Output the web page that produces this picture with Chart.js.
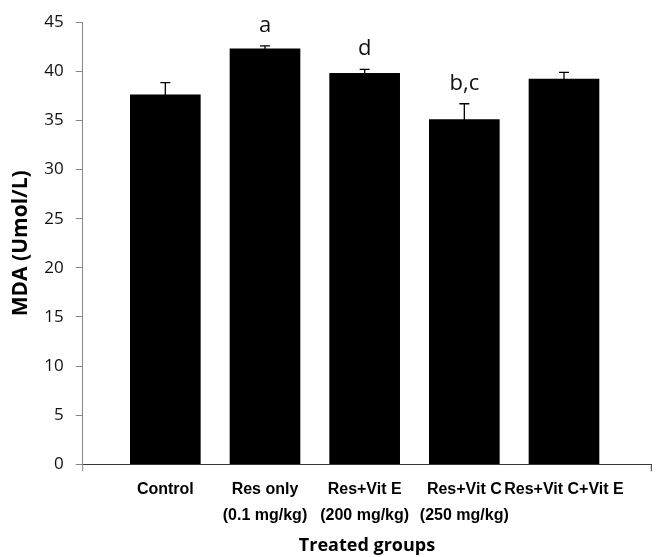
<!DOCTYPE html>
<html>
<head>
<meta charset="utf-8">
<script src="https://cdn.jsdelivr.net/npm/chart.js@4.4.1/dist/chart.umd.min.js"></script>
<style>
  html, body { margin: 0; padding: 0; background: #fff; }
  #wrap { width: 656px; height: 557px; position: relative; }
</style>
</head>
<body>
<div id="wrap"><canvas id="chart" width="656" height="557"></canvas></div>
<script>
// Treatment groups (first label line) and dose (second label line)
const categories = ['Control', 'Res only', 'Res+Vit E', 'Res+Vit C', 'Res+Vit C+Vit E'];
const doseLabels = ['', '(0.1 mg/kg)', '(200 mg/kg)', '(250 mg/kg)', ''];

// Mean MDA (Umol/L) and standard error per group
const mdaMeans = [37.6, 42.3, 39.8, 35.1, 39.2];
const mdaErrors = [1.25, 0.3, 0.4, 1.6, 0.7];

// Significance letters shown above the bars
const sigLetters = ['', 'a', 'd', 'b,c', ''];

const axisGray = '#868686';
const textColor = '#111';

// Error bars with caps, plus significance letters
const errorBarPlugin = {
  id: 'errorBars',
  afterDatasetsDraw(chart) {
    const ctx = chart.ctx;
    const yScale = chart.scales.y;
    const meta = chart.getDatasetMeta(0);
    ctx.save();
    meta.data.forEach((bar, i) => {
      const x = bar.x;
      const yHi = yScale.getPixelForValue(mdaMeans[i] + mdaErrors[i]);
      const yLo = yScale.getPixelForValue(mdaMeans[i] - mdaErrors[i]);
      ctx.strokeStyle = '#000';
      ctx.lineWidth = 1.3;
      ctx.beginPath();
      ctx.moveTo(x, yLo); ctx.lineTo(x, yHi);
      ctx.moveTo(x - 5, yHi); ctx.lineTo(x + 5, yHi);
      ctx.moveTo(x - 5, yLo); ctx.lineTo(x + 5, yLo);
      ctx.stroke();
      if (sigLetters[i]) {
        ctx.fillStyle = textColor;
        ctx.font = '22px "Open Sans"';
        ctx.textAlign = 'center';
        ctx.textBaseline = 'alphabetic';
        ctx.fillText(sigLetters[i], x, yHi - 14);
      }
    });
    // small end marks below the category axis
    const area = chart.chartArea;
    ctx.lineWidth = 1;
    ctx.strokeStyle = axisGray;
    ctx.beginPath();
    ctx.moveTo(area.left, area.bottom); ctx.lineTo(area.left, area.bottom + 7);
    ctx.stroke();
    ctx.strokeStyle = '#3a3a3a';
    ctx.beginPath();
    ctx.moveTo(area.right, area.bottom); ctx.lineTo(area.right, area.bottom + 7);
    ctx.stroke();
    ctx.restore();
  }
};

new Chart(document.getElementById('chart'), {
  type: 'bar',
  data: {
    datasets: [{
      data: mdaMeans.map((v, i) => ({ x: i + 1, y: v })),
      backgroundColor: '#000',
      borderWidth: 0,
      barThickness: 70
    }]
  },
  options: {
    responsive: false,
    animation: false,
    devicePixelRatio: 1,
    layout: { padding: { top: 20.7, right: 4.7, left: 0, bottom: 0 } },
    plugins: {
      legend: { display: false },
      tooltip: { enabled: false }
    },
    scales: {
      x: {
        type: 'linear',
        offset: false,
        min: 0.171,
        max: 5.876,
        afterFit: (s) => { s.height = 92.7; },
        afterBuildTicks: (s) => { s.ticks = categories.map((c, i) => ({ value: i + 1 })); },
        grid: { display: false },
        border: { display: true, color: '#3a3a3a', width: 1 },
        ticks: {
          autoSkip: false,
          maxRotation: 0,
          padding: 4.5,
          color: '#000',
          font: { family: '"Liberation Sans", Arial, sans-serif', size: 16, weight: 'bold', lineHeight: 1.6 },
          callback: (v) => {
            const i = Math.round(v) - 1;
            return doseLabels[i] ? [categories[i], doseLabels[i]] : categories[i];
          }
        },
        title: {
          display: true,
          text: 'Treated groups',
          color: '#000',
          font: { family: '"Open Sans", sans-serif', size: 18, weight: 'bold', lineHeight: 1.2 },
          padding: { top: 0, bottom: 0 }
        }
      },
      y: {
        min: 0,
        max: 45,
        afterFit: (s) => { s.width = 82.7; },
        grid: { display: true, drawOnChartArea: false, tickLength: 7, color: axisGray },
        border: { display: true, color: axisGray, width: 1 },
        ticks: {
          stepSize: 5,
          padding: 12,
          color: textColor,
          font: { family: '"Open Sans", sans-serif', size: 17 }
        },
        title: {
          display: true,
          text: 'MDA (Umol/L)',
          color: '#000',
          font: { family: '"Open Sans", sans-serif', size: 21, weight: 'bold', lineHeight: 1.2 },
          padding: { top: 8, bottom: 0 }
        }
      }
    }
  },
  plugins: [errorBarPlugin]
});
</script>
</body>
</html>
